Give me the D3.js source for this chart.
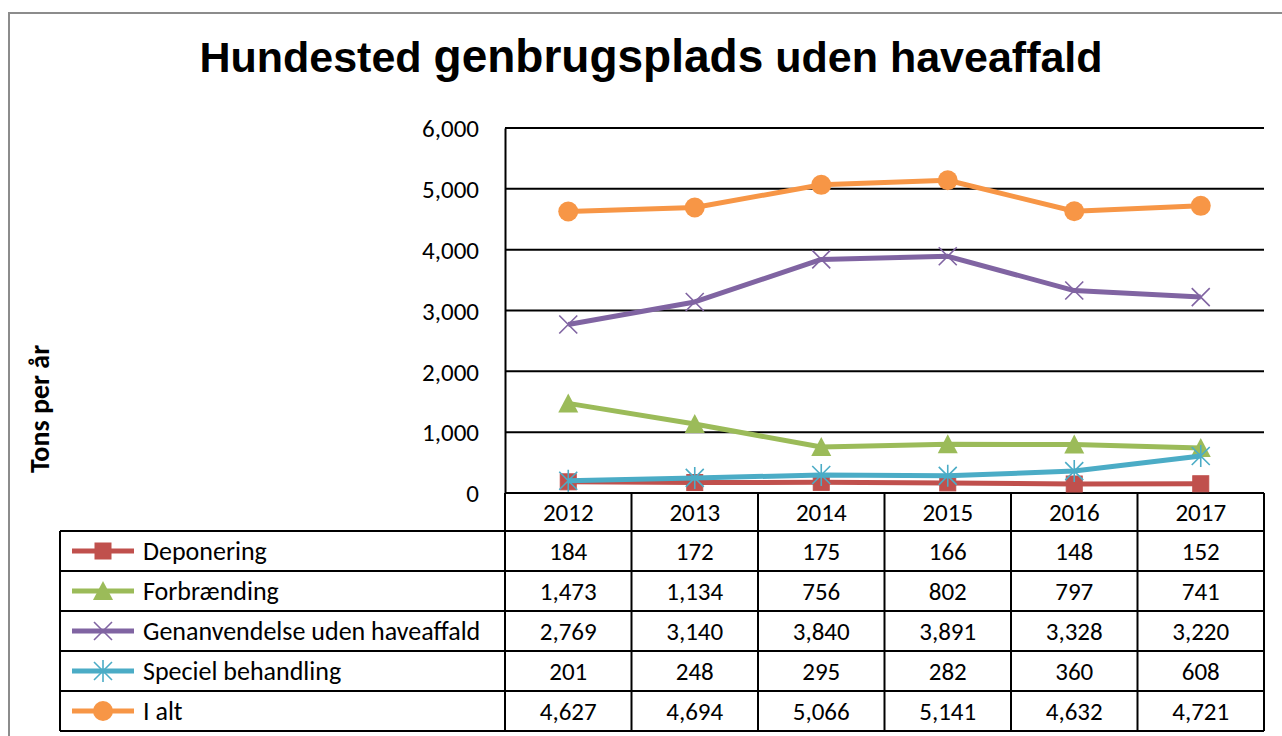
<!DOCTYPE html>
<html lang="da">
<head>
<meta charset="UTF-8">
<title>Hundested genbrugsplads uden haveaffald</title>
<script src="https://d3js.org/d3.v7.min.js"></script>
<style>
  body { margin: 0; background: #fff; }
  svg text { font-family: Carlito, Calibri, Lato, sans-serif; fill: #000; }
</style>
</head>
<body>
<svg id="chart" width="1282" height="736"></svg>
<script>
  const years = ["2012", "2013", "2014", "2015", "2016", "2017"];
  const seriesNames = ["Deponering", "Forbrænding", "Genanvendelse uden haveaffald", "Speciel behandling", "I alt"];
  const deponering = [184, 172, 175, 166, 148, 152];
  const forbraending = [1473, 1134, 756, 802, 797, 741];
  const genanvendelse = [2769, 3140, 3840, 3891, 3328, 3220];
  const speciel = [201, 248, 295, 282, 360, 608];
  const iAlt = [4627, 4694, 5066, 5141, 4632, 4721];
  const yTicks = [0, 1000, 2000, 3000, 4000, 5000, 6000];

  const colors = ["#C0504D", "#9BBB59", "#8064A2", "#4BACC6", "#F79646"];
  const markers = ["square", "triangle", "x", "star", "circle"];
  const allValues = [deponering, forbraending, genanvendelse, speciel, iAlt];

  const series = seriesNames.map((name, i) => ({
    name: name, values: allValues[i], color: colors[i], marker: markers[i]
  }));

  const svg = d3.select("#chart");
  const fmt = d3.format(",");

  const plot = { left: 505, right: 1264, top: 128, bottom: 493 };
  const tableLeft = 60;
  const headerBottom = 531;
  const tableBottom = 731;

  const x = d3.scaleBand().domain(years).range([plot.left, plot.right]);
  const y = d3.scaleLinear().domain([0, 6000]).range([plot.bottom, plot.top]);
  const rowScale = d3.scaleBand().domain(seriesNames).range([headerBottom, tableBottom]);

  // outer frame
  svg.append("path")
    .attr("d", "M9,736 V13 H1282")
    .attr("fill", "none")
    .attr("stroke", "#8c8c8c")
    .attr("stroke-width", 2);

  // title
  const title = svg.append("text")
    .attr("x", 651)
    .attr("y", 72)
    .attr("text-anchor", "middle")
    .style("font-family", "'Liberation Sans', Arial, sans-serif")
    .style("font-weight", "bold")
    .style("font-size", "43px");
  title.append("tspan").text("Hundested ");
  title.append("tspan").style("font-size", "46px").text("genbrugsplads");
  title.append("tspan").text(" uden haveaffald");

  // gridlines
  svg.append("g")
    .selectAll("line")
    .data(yTicks)
    .enter()
    .append("line")
    .attr("x1", plot.left)
    .attr("x2", plot.right)
    .attr("y1", d => y(d))
    .attr("y2", d => y(d))
    .attr("stroke", "#000")
    .attr("stroke-width", 2);

  // y axis
  const yAxis = svg.append("g")
    .attr("transform", `translate(${plot.left},0)`)
    .call(d3.axisLeft(y).tickValues(yTicks).tickFormat(fmt).tickSize(0).tickPadding(26));
  yAxis.select(".domain").attr("stroke", "#000").attr("stroke-width", 2);
  yAxis.selectAll("text")
    .style("font-family", "Carlito, Calibri, Lato, sans-serif")
    .style("font-size", "25px")
    .attr("dy", "0.35em");

  svg.append("text")
    .attr("transform", "translate(49,409) rotate(-90)")
    .attr("text-anchor", "middle")
    .style("font-size", "28px")
    .style("font-weight", "bold")
    .text("Tons per år");

  // table grid
  const tg = svg.append("g").attr("fill", "none").attr("stroke", "#000").attr("stroke-width", 2);
  const colEdges = years.map(d => x(d)).concat([plot.right]);
  colEdges.forEach(cx => {
    tg.append("line").attr("x1", cx).attr("x2", cx).attr("y1", plot.bottom).attr("y2", tableBottom);
  });
  tg.append("line").attr("x1", tableLeft).attr("x2", tableLeft).attr("y1", headerBottom).attr("y2", tableBottom);
  seriesNames.forEach(n => {
    tg.append("line").attr("x1", tableLeft).attr("x2", plot.right)
      .attr("y1", rowScale(n)).attr("y2", rowScale(n));
  });
  tg.append("line").attr("x1", tableLeft).attr("x2", plot.right).attr("y1", tableBottom).attr("y2", tableBottom);

  // year headers
  svg.append("g")
    .selectAll("text")
    .data(years)
    .enter()
    .append("text")
    .attr("x", d => x(d) + x.bandwidth() / 2)
    .attr("y", (plot.bottom + headerBottom) / 2)
    .attr("dy", "0.35em")
    .attr("text-anchor", "middle")
    .style("font-size", "25px")
    .text(d => d);

  function drawMarker(g, type, color, size) {
    const s = size / 2;
    if (type === "square") {
      g.append("rect").attr("x", -s + 1).attr("y", -s + 1).attr("width", size - 2).attr("height", size - 2)
        .attr("fill", color).attr("stroke", color);
    } else if (type === "triangle") {
      g.append("path").attr("d", `M0,${-s - 1} L${s + 1},${s} L${-s - 1},${s} Z`).attr("fill", color);
    } else if (type === "x") {
      g.append("path").attr("d", `M${-s},${-s} L${s},${s} M${-s},${s} L${s},${-s}`)
        .attr("stroke", color).attr("stroke-width", 1.6).attr("fill", "none");
    } else if (type === "star") {
      g.append("path").attr("d", `M${-s},${-s} L${s},${s} M${-s},${s} L${s},${-s} M0,${-s - 2} V${s + 2}`)
        .attr("stroke", color).attr("stroke-width", 1.6).attr("fill", "none");
    } else {
      g.append("circle").attr("r", s + 1).attr("fill", color);
    }
  }

  // table rows
  series.forEach(sr => {
    const cy = rowScale(sr.name) + rowScale.bandwidth() / 2;
    const key = svg.append("g").attr("transform", `translate(103,${cy})`);
    key.append("line").attr("x1", -31).attr("x2", 31).attr("stroke", sr.color).attr("stroke-width", 5);
    drawMarker(key, sr.marker, sr.color, 18);

    svg.append("text")
      .attr("x", 143)
      .attr("y", cy)
      .attr("dy", "0.35em")
      .style("font-size", "26px")
      .text(sr.name);

    svg.append("g")
      .selectAll("text")
      .data(sr.values)
      .enter()
      .append("text")
      .attr("x", (d, i) => x(years[i]) + x.bandwidth() / 2)
      .attr("y", cy)
      .attr("dy", "0.35em")
      .attr("text-anchor", "middle")
      .style("font-size", "25px")
      .text(d => fmt(d));
  });

  // lines
  const line = d3.line()
    .x((d, i) => x(years[i]) + x.bandwidth() / 2)
    .y(d => y(d));

  series.forEach(sr => {
    svg.append("path")
      .datum(sr.values)
      .attr("d", line)
      .attr("fill", "none")
      .attr("stroke", sr.color)
      .attr("stroke-width", 5)
      .attr("stroke-linejoin", "round");

    sr.values.forEach((v, i) => {
      const m = svg.append("g")
        .attr("transform", `translate(${x(years[i]) + x.bandwidth() / 2},${y(v)})`);
      drawMarker(m, sr.marker, sr.color, 18);
    });
  });
</script>
</body>
</html>
